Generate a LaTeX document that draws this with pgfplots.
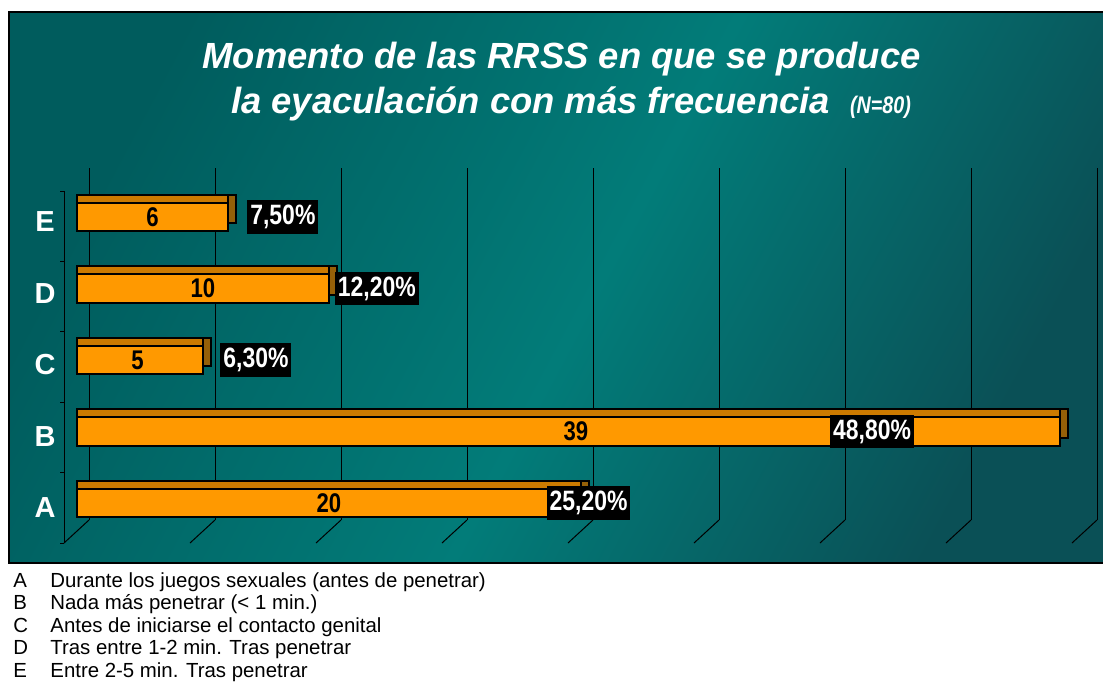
\documentclass[border=0pt]{standalone}
\usepackage{fontspec}
\setmainfont{Liberation Sans}
\newfontfamily\narrow[FakeStretch=0.82]{Liberation Sans}
\usepackage{pgfplots}
\pgfplotsset{compat=1.18}

\definecolor{barfront}{RGB}{255,153,0}
\definecolor{bartop}{RGB}{204,122,0}
\definecolor{barside}{RGB}{150,96,8}
\definecolor{bgdark}{RGB}{0,92,93}
\definecolor{bgmid}{RGB}{2,124,121}
\definecolor{bgdeep}{RGB}{10,80,86}
\pgfdeclarehorizontalshading{panelbg}{100bp}{color(0bp)=(bgdark); color(25bp)=(bgdark);
  color(52bp)=(bgmid); color(75bp)=(bgdeep); color(100bp)=(bgdeep)}

\begin{document}
\begin{tikzpicture}[x=0.5pt,y=-0.5pt,
    val/.style={text=black, font=\narrow\bfseries\fontsize{13.5}{15}\selectfont},
    pct/.style={fill=black, text=white, font=\narrow\bfseries\fontsize{14}{16}\selectfont,
        inner xsep=1.5pt, inner ysep=2.5pt}]
\path[use as bounding box] (0,0) rectangle (1103,681);
% panel
\shade[shading=panelbg, shading angle=-28] (9,12) rectangle (1103,563);
\draw[black, line width=0.8pt] (1103,12) -- (9,12) -- (9,563) -- (1103,563);

% title
\node[anchor=base, text=white, font=\bfseries\itshape\fontsize{18.2}{20}\selectfont]
  at (561.5,68) {Momento de las RRSS en que se produce};
\node[anchor=base, text=white, font=\bfseries\itshape\fontsize{18.2}{20}\selectfont]
  at (571,113) {la eyaculación con más frecuencia\ \ {\narrow\fontsize{12}{13}\selectfont(N=80)}};

% back wall + floor
\begin{axis}[
    at={(44.5pt,-260pt)}, anchor=south west,
    scale only axis, width=504pt, height=176pt,
    xmin=0, xmax=40, ymin=0.5, ymax=5.5,
    xtick={0,5,...,40}, xticklabels={}, ytick=\empty,
    xmajorgrids, grid style={black, line width=0.5pt},
    axis line style={draw=none}, tick style={draw=none},
    clip=false,
]
\pgfplotsinvokeforeach{0,5,...,40}{
  \draw[black, line width=0.5pt] ([xshift=-12.5pt,yshift=-11.5pt]axis cs:#1,0.5) -- (axis cs:#1,0.5);
}
\draw[black, line width=0.5pt] ([xshift=-12.5pt,yshift=-11.5pt]axis cs:0,0.5) -- ([xshift=-12.5pt,yshift=-11.5pt]axis cs:0,5.5);
\pgfplotsinvokeforeach{0.5,1.5,...,5.5}{
  \draw[black, line width=0.5pt] ([xshift=-12.5pt,yshift=-11.5pt]axis cs:0,#1) -- ++(-2pt,0pt);
}
\end{axis}

% bars
\begin{axis}[
    at={(38.5pt,-269.375pt)}, anchor=south west,
    scale only axis, width=504pt, height=178.75pt,
    xmin=0, xmax=40, ymin=0.5, ymax=5.5,
    ytick={1,2,3,4,5}, yticklabels={A,B,C,D,E}, xtick=\empty,
    axis line style={draw=none}, tick style={draw=none},
    yticklabel style={text=white, font=\bfseries\fontsize{14.5}{16}\selectfont,
        anchor=center, xshift=-16pt, yshift=-2.5pt},
    bar width=14.25pt,
    clip=false,
]
\addplot[xbar, bar shift=0pt, fill=barside, draw=black, line width=0.8pt, xshift=4pt, yshift=4pt]
  coordinates {(20,1) (39,2) (5,3) (10,4) (6,5)};
\addplot[xbar, bar shift=0pt, fill=bartop, draw=black, line width=0.8pt, yshift=4pt]
  coordinates {(20,1) (39,2) (5,3) (10,4) (6,5)};
\addplot[xbar, bar shift=0pt, fill=barfront, draw=black, line width=1pt]
  coordinates {(20,1) (39,2) (5,3) (10,4) (6,5)};

\node[val] at (axis cs:10,1) {20};
\node[val] at (axis cs:19.8,2) {39};
\node[val] at (axis cs:2.4,3) {5};
\node[val] at (axis cs:5,4) {10};
\node[val] at (axis cs:3,5) {6};

\node[pct] at (axis cs:20.3,1) {25,20\%};
\node[pct] at (axis cs:31.55,2) {48,80\%};
\node[pct] at (axis cs:7.1,3) {6,30\%};
\node[pct] at (axis cs:11.9,4) {12,20\%};
\node[pct] at (axis cs:8.17,5) {7,50\%};
\end{axis}

% legend text
\begin{scope}[every node/.style={anchor=base west, inner sep=0pt, font=\fontsize{10.2}{12}\selectfont}]
\node at (13,587) {A}; \node at (50,587) {Durante los juegos sexuales (antes de penetrar)};
\node at (13,609.5) {B}; \node at (50,609.5) {Nada más penetrar (< 1 min.)};
\node at (13,632) {C}; \node at (50,632) {Antes de iniciarse el contacto genital};
\node at (13,654.5) {D}; \node at (50,654.5) {Tras entre 1-2 min. Tras penetrar};
\node at (13,677) {E}; \node at (50,677) {Entre 2-5 min. Tras penetrar};
\end{scope}
\end{tikzpicture}
\end{document}
